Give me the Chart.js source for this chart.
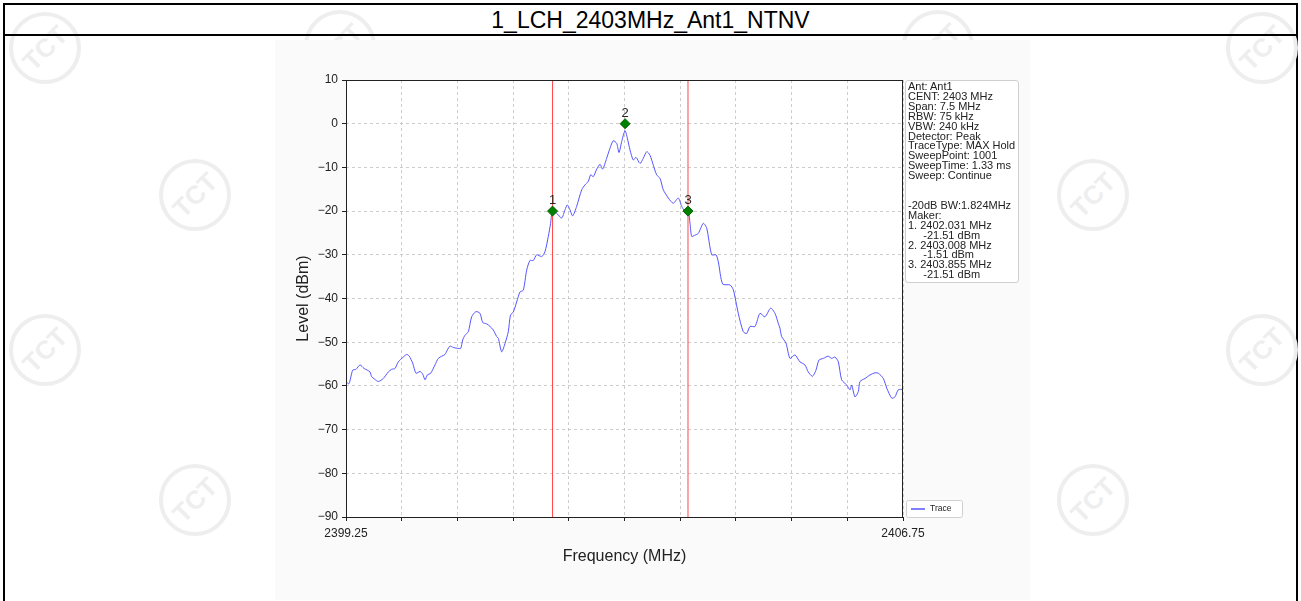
<!DOCTYPE html>
<html>
<head>
<meta charset="utf-8">
<title>1_LCH_2403MHz_Ant1_NTNV</title>
<script src="https://cdn.jsdelivr.net/npm/chart.js@4.4.1/dist/chart.umd.min.js"></script>
<style>
    body { margin: 0; background: #fff; font-family: "Liberation Sans", Arial, sans-serif; }
    #page { position: relative; width: 1301px; height: 601px; overflow: hidden; }
    #frame { position: absolute; left: 3px; top: 3px; width: 1291px; height: 640px; border: 2px solid #000; }
    #title { position: absolute; left: 5px; top: 5px; width: 1291px; height: 29px; border-bottom: 2px solid #000;
             text-align: center; font-size: 23px; line-height: 31px; color: #000; }
    .wm { position: absolute; width: 64px; height: 64px; border: 4px solid #eeeeee; border-radius: 50%;
          color: #eeeeee; font: bold 26px "Liberation Sans", Arial, sans-serif; text-align: center; line-height: 64px;
          transform: rotate(-45deg); }
    #fig { position: absolute; left: 275px; top: 40px; width: 755px; height: 560px; background: #fafafa; }
    #info { position: absolute; left: 905px; top: 80px; width: 110px; height: 200px; border: 1px solid #cfcfcf;
            border-radius: 3px; background: #fff; font-size: 11px; line-height: 9.9px; color: #222;
            padding: 1px 0 0 2px; white-space: pre; overflow: hidden; }
</style>
</head>
<body>
<div id="page">
    <div id="frame"></div>
    <div class="wm" style="left:9px;top:12px">TCT</div>
    <div class="wm" style="left:1226px;top:12px">TCT</div>
    <div class="wm" style="left:304px;top:10px">TCT</div>
    <div class="wm" style="left:902px;top:10px">TCT</div>
    <div class="wm" style="left:159px;top:159px">TCT</div>
    <div class="wm" style="left:1057px;top:159px">TCT</div>
    <div class="wm" style="left:9px;top:314px">TCT</div>
    <div class="wm" style="left:1226px;top:314px">TCT</div>
    <div class="wm" style="left:159px;top:464px">TCT</div>
    <div class="wm" style="left:1057px;top:464px">TCT</div>
    <div id="title">1_LCH_2403MHz_Ant1_NTNV</div>
    <div id="fig"><canvas id="spec" width="755" height="560"></canvas></div>
    <div id="info"></div>
</div>
<script>
// ====== Data ======
const freqMHz = [
    2399.250, 2399.290, 2399.340, 2399.385, 2399.439, 2399.492, 2399.537, 2399.573, 2399.596, 2399.631,
    2399.685, 2399.752, 2399.820, 2399.865, 2399.910, 2399.954, 2400.022, 2400.067, 2400.102, 2400.148,
    2400.193, 2400.246, 2400.283, 2400.314, 2400.345, 2400.390, 2400.448, 2400.493, 2400.539, 2400.583,
    2400.614, 2400.650, 2400.695, 2400.749, 2400.794, 2400.821, 2400.852, 2400.897, 2400.942, 2401.000,
    2401.054, 2401.091, 2401.144, 2401.189, 2401.233, 2401.279, 2401.301, 2401.346, 2401.391, 2401.435,
    2401.465, 2401.503, 2401.548, 2401.593, 2401.637, 2401.683, 2401.727, 2401.772, 2401.817, 2401.885,
    2401.929, 2401.974, 2402.005, 2402.028, 2402.087, 2402.154, 2402.199, 2402.230, 2402.266, 2402.302,
    2402.356, 2402.424, 2402.468, 2402.512, 2402.545, 2402.580, 2402.626, 2402.670, 2402.706, 2402.760,
    2402.805, 2402.849, 2402.895, 2402.926, 2402.962, 2403.007, 2403.038, 2403.074, 2403.118, 2403.155,
    2403.209, 2403.253, 2403.299, 2403.343, 2403.388, 2403.433, 2403.478, 2403.522, 2403.590, 2403.657,
    2403.724, 2403.770, 2403.814, 2403.859, 2403.882, 2403.905, 2403.949, 2403.994, 2404.061, 2404.107,
    2404.174, 2404.232, 2404.263, 2404.322, 2404.420, 2404.465, 2404.532, 2404.599, 2404.645, 2404.690,
    2404.757, 2404.824, 2404.891, 2404.968, 2405.026, 2405.071, 2405.093, 2405.116, 2405.174, 2405.228,
    2405.295, 2405.362, 2405.430, 2405.474, 2405.531, 2405.578, 2405.618, 2405.677, 2405.744, 2405.789,
    2405.834, 2405.879, 2405.924, 2405.992, 2406.036, 2406.059, 2406.103, 2406.148, 2406.171, 2406.238,
    2406.305, 2406.373, 2406.418, 2406.485, 2406.531, 2406.598, 2406.642, 2406.687, 2406.750
];
const levelDbm = [
    -59.0, -59.5, -56.4, -56.2, -55.2, -56.0, -56.4, -56.8, -57.9, -58.4,
    -59.0, -58.3, -56.8, -56.2, -56.0, -54.5, -53.4, -52.8, -53.2, -54.8,
    -57.1, -56.7, -57.3, -58.6, -57.5, -57.1, -55.2, -53.7, -53.2, -52.8,
    -51.8, -50.9, -51.2, -51.4, -51.4, -49.5, -48.4, -47.6, -44.2, -43.0,
    -43.4, -45.5, -45.8, -46.4, -47.2, -48.7, -49.1, -52.2, -50.3, -47.6,
    -43.8, -43.1, -40.8, -38.5, -38.1, -33.5, -31.3, -31.3, -30.0, -30.4,
    -29.3, -25.8, -22.8, -20.2, -20.5, -21.6, -19.7, -18.6, -19.7, -21.1,
    -18.9, -15.1, -14.0, -13.2, -11.7, -12.1, -10.4, -9.3, -10.4, -7.9,
    -5.6, -3.9, -4.5, -6.6, -4.1, -1.6, -3.3, -6.0, -8.3, -7.7,
    -9.1, -7.9, -6.4, -7.2, -9.5, -11.7, -12.5, -15.1, -17.0, -18.2,
    -17.0, -18.9, -20.0, -20.1, -22.8, -25.8, -25.5, -25.1, -22.8, -23.9,
    -30.0, -30.0, -31.6, -36.7, -36.9, -38.0, -43.4, -47.6, -48.0, -46.4,
    -46.4, -43.4, -44.2, -42.2, -43.4, -45.7, -46.8, -48.7, -50.2, -53.7,
    -52.9, -54.5, -55.2, -56.8, -57.8, -56.4, -54.1, -53.7, -53.2, -53.7,
    -53.4, -54.5, -58.6, -59.8, -60.9, -59.8, -62.5, -61.3, -59.0, -58.3,
    -57.5, -57.0, -57.1, -58.3, -60.5, -62.8, -62.5, -60.9, -60.8
];

const markerNames = ['1', '2', '3'];
const markerFreq = [2402.031, 2403.008, 2403.855];
const markerLevel = [-20, 0, -20];
const boundFreq = [2402.031, 2403.855];   // red -20 dB bandwidth lines

const xTickValues = [2399.25, 2400, 2400.75, 2401.5, 2402.25, 2403, 2403.75, 2404.5, 2405.25, 2406, 2406.75];
const xTickLabels = ['2399.25', '', '', '', '', '', '', '', '', '', '2406.75'];
const yTickValues = [-90, -80, -70, -60, -50, -40, -30, -20, -10, 0, 10];

const infoLines = [
    'Ant: Ant1', 'CENT: 2403 MHz', 'Span: 7.5 MHz', 'RBW: 75 kHz', 'VBW: 240 kHz',
    'Detector: Peak', 'TraceType: MAX Hold', 'SweepPoint: 1001', 'SweepTime: 1.33 ms', 'Sweep: Continue',
    '', '', '-20dB BW:1.824MHz', 'Maker:',
    '1. 2402.031 MHz', '     -21.51 dBm', '2. 2403.008 MHz', '     -1.51 dBm', '3. 2403.855 MHz', '     -21.51 dBm'
];
document.getElementById('info').textContent = infoLines.join('\n');

const FONT = '"Liberation Sans", Arial, sans-serif';
const TRACE_COLOR = '#5555ff';

// ====== Plugins: plot background, frame, marker labels, legend ======
const plotDecor = {
    id: 'plotDecor',
    beforeDraw(chart) {
        const { ctx, chartArea: a } = chart;
        ctx.save();
        ctx.fillStyle = '#ffffff';
        ctx.fillRect(a.left, a.top, a.right - a.left, a.bottom - a.top);
        ctx.restore();
    },
    afterDatasetsDraw(chart) {
        const { ctx, chartArea: a } = chart;
        ctx.save();
        ctx.strokeStyle = '#222';
        ctx.lineWidth = 1;
        ctx.strokeRect(a.left + 0.5, a.top + 0.5, a.right - a.left - 1, a.bottom - a.top);

        // marker numbers
        const meta = chart.getDatasetMeta(0);
        ctx.fillStyle = '#222';
        ctx.font = '13px ' + FONT;
        ctx.textAlign = 'center';
        ctx.textBaseline = 'bottom';
        meta.data.forEach((pt, i) => ctx.fillText(markerNames[i], pt.x, pt.y - 4));

        // legend box (outside, bottom right)
        const lx = a.right + 3, ly = a.bottom - 17;
        ctx.fillStyle = '#fff';
        ctx.strokeStyle = '#d0d0d0';
        ctx.beginPath();
        ctx.roundRect(lx + 0.5, ly + 0.5, 56, 17, 2);
        ctx.fill();
        ctx.stroke();
        ctx.strokeStyle = TRACE_COLOR;
        ctx.lineWidth = 1.5;
        ctx.beginPath();
        ctx.moveTo(lx + 5, ly + 9);
        ctx.lineTo(lx + 19, ly + 9);
        ctx.stroke();
        ctx.fillStyle = '#222';
        ctx.font = '8.5px ' + FONT;
        ctx.textAlign = 'left';
        ctx.textBaseline = 'middle';
        ctx.fillText(chart.data.datasets[1].label, lx + 24, ly + 9);
        ctx.restore();
    }
};

// ====== Chart ======
const traceData = freqMHz.map((f, i) => ({ x: f, y: levelDbm[i] }));
const markerData = markerFreq.map((f, i) => ({ x: f, y: markerLevel[i] }));

const boundSets = boundFreq.map(f => ({
    label: 'bound',
    data: [{ x: f, y: yTickValues[0] }, { x: f, y: yTickValues[yTickValues.length - 1] }],
    borderColor: 'rgba(255,40,40,0.85)',
    borderWidth: 1,
    pointRadius: 0,
    order: 3
}));

const gridOpts = {
    color: '#c0c0c0', lineWidth: 0.8,
    tickColor: '#222', tickBorderDash: [], tickLength: 4, tickWidth: 1
};

new Chart(document.getElementById('spec'), {
    type: 'line',
    data: {
        datasets: [
            {
                label: 'Marker',
                data: markerData,
                showLine: false,
                pointStyle: 'rectRot',
                pointRadius: 5,
                backgroundColor: '#008000',
                borderColor: '#006400',
                borderWidth: 1,
                order: 0
            },
            {
                label: 'Trace',
                data: traceData,
                borderColor: TRACE_COLOR,
                borderWidth: 1,
                pointRadius: 0,
                tension: 0.25,
                order: 1
            },
            ...boundSets
        ]
    },
    options: {
        responsive: false,
        animation: false,
        devicePixelRatio: 1,
        layout: { padding: { left: 0, right: 127, top: 40, bottom: 34 } },
        plugins: { legend: { display: false }, tooltip: { enabled: false } },
        scales: {
            x: {
                type: 'linear',
                min: xTickValues[0],
                max: xTickValues[xTickValues.length - 1],
                afterBuildTicks: s => { s.ticks = xTickValues.map(v => ({ value: v })); },
                afterFit: s => { s.height = 49; },
                border: { display: false, dash: [3, 3] },
                grid: gridOpts,
                ticks: {
                    autoSkip: false, maxRotation: 0, padding: 5,
                    color: '#222', font: { size: 12, family: FONT },
                    callback: (v, i) => xTickLabels[i]
                },
                title: {
                    display: true, text: 'Frequency (MHz)', color: '#222',
                    font: { size: 16, family: FONT }, padding: { top: 0, bottom: 0 }
                }
            },
            y: {
                min: yTickValues[0],
                max: yTickValues[yTickValues.length - 1],
                afterBuildTicks: s => { s.ticks = yTickValues.map(v => ({ value: v })); },
                afterFit: s => { s.width = 71; },
                border: { display: false, dash: [3, 3] },
                grid: gridOpts,
                ticks: {
                    padding: 4, color: '#222', font: { size: 12, family: FONT },
                    callback: v => (v < 0 ? '\u2212' + Math.abs(v) : String(v))
                },
                title: {
                    display: true, text: 'Level (dBm)', color: '#222',
                    font: { size: 16, family: FONT }, padding: { top: 19, bottom: 0 }
                }
            }
        }
    },
    plugins: [plotDecor]
});
</script>
</body>
</html>
